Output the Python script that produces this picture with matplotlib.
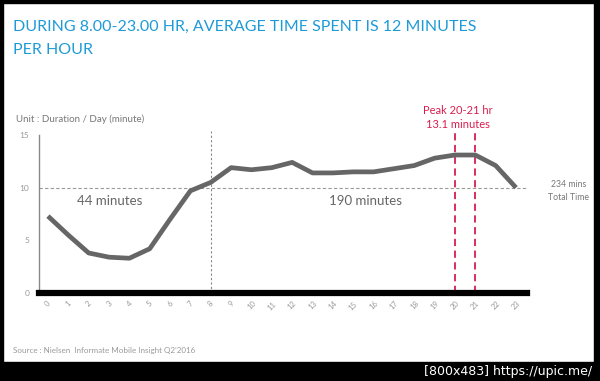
import matplotlib.pyplot as plt
from matplotlib.patches import Rectangle

hours = list(range(24))
minutes = [7.3, 5.5, 3.8, 3.4, 3.3, 4.2, 7.0, 9.7, 10.5, 11.9, 11.7, 11.9,
           12.4, 11.4, 11.4, 11.5, 11.5, 11.8, 12.1, 12.8, 13.1, 13.1, 12.1, 10.0]
y_ticks = [0, 5, 10, 15]
avg_line = 10
split_hour = 8
peak_hours = [20, 21]

plt.rcParams['font.family'] = ['Lato', 'DejaVu Sans']

fig = plt.figure(figsize=(6, 3.81), dpi=100)
W, H = 600, 381

# black frame around the screenshot
for x0, y0, w, h in [(0, 0, 3, H), (0, 0, W, 3), (594, 0, 6, H), (0, 362, W, 19)]:
    fig.patches.append(Rectangle((x0 / W, 1 - (y0 + h) / H), w / W, h / H,
                                 transform=fig.transFigure, color='black', zorder=0))

ax = fig.add_axes([39 / W, 1 - 293 / H, 488 / W, 158 / H])
ax.set_xlim(-0.44, 23.54)
ax.set_ylim(0, 15)

ax.plot(hours, minutes, color='#666666', lw=3.4, solid_capstyle='butt', zorder=3)

ax.axhline(avg_line, color='#999999', lw=0.8, ls=(0, (3, 2)), zorder=1)
ax.plot([split_hour, split_hour], [0, 15.4], color='#888888', lw=0.8,
        ls=(0, (2, 2)), clip_on=False, zorder=1)
for ph in peak_hours:
    ax.plot([ph, ph], [0, 15.4], color='#d81e4e', lw=1.3, ls=(0, (4, 2.5)),
            clip_on=False, zorder=2)

for s in ['top', 'right']:
    ax.spines[s].set_visible(False)
ax.spines['left'].set_color('#888888')
ax.spines['left'].set_linewidth(1)
ax.spines['bottom'].set_color('black')
ax.spines['bottom'].set_linewidth(4.5)
ax.spines['bottom'].set_zorder(4)

ax.set_yticks(y_ticks)
ax.set_yticklabels([str(v) for v in y_ticks], fontsize=6, color='#999999')
ax.set_xticks(hours)
ax.set_xticklabels([str(h) for h in hours], fontsize=5.5, color='#999999',
                   rotation=45, ha='center')
ax.tick_params(length=0, pad=7)
ax.tick_params(axis='x', pad=5)

ax.text(3.05, 8.7, '44 minutes', fontsize=9.5, color='#666666', ha='center', va='center')
ax.text(15.6, 8.7, '190 minutes', fontsize=9.5, color='#666666', ha='center', va='center')

fig.text(13 / W, 1 - 27 / H, 'DURING 8.00-23.00 HR, AVERAGE TIME SPENT IS 12 MINUTES',
         fontsize=11.5, color='#1d9bd7', va='center')
fig.text(13 / W, 1 - 50 / H, 'PER HOUR', fontsize=11.5, color='#1d9bd7', va='center')
fig.text(16 / W, 1 - 119 / H, 'Unit : Duration / Day (minute)', fontsize=7,
         color='#777777', va='center')
fig.text(458 / W, 1 - 110 / H, 'Peak 20-21 hr', fontsize=8, color='#d81e4e',
         ha='center', va='center')
fig.text(458 / W, 1 - 124 / H, '13.1 minutes', fontsize=8, color='#d81e4e',
         ha='center', va='center')
fig.text(569 / W, 1 - 185 / H, '234 mins', fontsize=6.3, color='#777777',
         ha='center', va='center')
fig.text(569 / W, 1 - 198 / H, 'Total Time', fontsize=6.3, color='#777777',
         ha='center', va='center')
fig.text(13 / W, 1 - 351 / H, 'Source : Nielsen  Informate Mobile Insight Q2\u20192016',
         fontsize=5.8, color='#999999', va='center')
fig.text(592 / W, 1 - 372 / H, '[800x483] https://upic.me/', fontsize=9,
         color='white', ha='right', va='center', family=['DejaVu Sans'])

fig.savefig('out.png', dpi=100)
